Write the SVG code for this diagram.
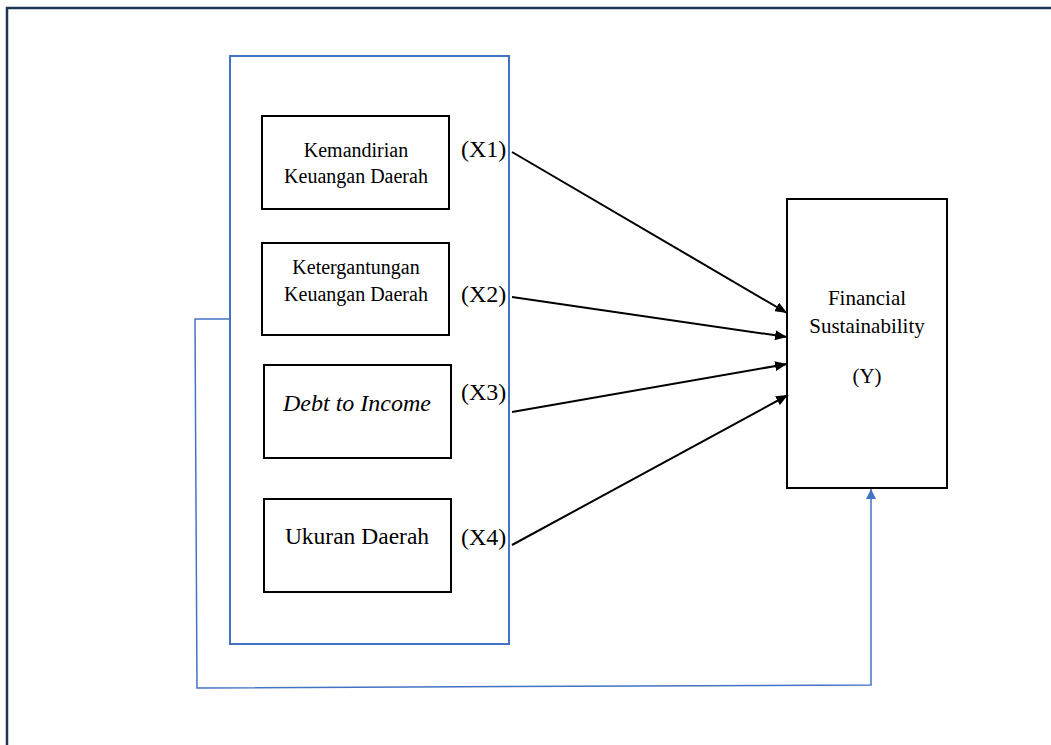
<svg xmlns="http://www.w3.org/2000/svg" width="1051" height="745" viewBox="0 0 1051 745">
<style>
.box{fill:#fff;stroke:#000;stroke-width:2}
.t{font-family:"Liberation Serif","Times New Roman",serif;fill:#000}
.arr{stroke:#000;stroke-width:2;fill:none}
.blue{stroke:#4472c4;fill:none}
</style>
<defs>
<marker id="ah" viewBox="0 0 12 10" refX="12" refY="5" markerWidth="12" markerHeight="10" markerUnits="userSpaceOnUse" orient="auto">
<path d="M0,0 L12,5 L0,10 z" fill="#000"/>
</marker>
<marker id="bh" viewBox="0 0 10 10" refX="10" refY="5" markerWidth="10" markerHeight="11" markerUnits="userSpaceOnUse" orient="auto">
<path d="M0,0 L10,5 L0,10 z" fill="#4472c4"/>
</marker>
</defs>
<rect width="1051" height="745" fill="#fff"/>
<g id="frame">
<path d="M7,745 V8 H1051" fill="none" stroke="#1f3557" stroke-width="2.5"/>
</g>
<g id="group-x">
<rect x="230" y="56" width="279" height="588" class="blue" stroke-width="2"/>
</g>
<g id="x1">
<rect x="262" y="116" width="187" height="93" class="box"/>
<text class="t" font-size="20" text-anchor="middle"><tspan x="356" y="157">Kemandirian</tspan><tspan x="356" y="183">Keuangan Daerah</tspan></text>
<text class="t" font-size="24" x="461" y="157">(X1)</text>
</g>
<g id="x2">
<rect x="262" y="243" width="187" height="92" class="box"/>
<text class="t" font-size="20" text-anchor="middle"><tspan x="356" y="274">Ketergantungan</tspan><tspan x="356" y="301">Keuangan Daerah</tspan></text>
<text class="t" font-size="24" x="461" y="302">(X2)</text>
</g>
<g id="x3">
<rect x="264" y="365" width="187" height="93" class="box"/>
<text class="t" font-size="24" font-style="italic" text-anchor="middle" x="357" y="411">Debt to Income</text>
<text class="t" font-size="24" x="461" y="400">(X3)</text>
</g>
<g id="x4">
<rect x="264" y="499" width="187" height="93" class="box"/>
<text class="t" font-size="23.5" text-anchor="middle" x="357" y="544">Ukuran Daerah</text>
<text class="t" font-size="24" x="461" y="545">(X4)</text>
</g>
<g id="y">
<rect x="787" y="199" width="160" height="289" class="box"/>
<text class="t" font-size="21" text-anchor="middle"><tspan x="867" y="305">Financial</tspan><tspan x="867" y="333">Sustainability</tspan><tspan x="867" y="383">(Y)</tspan></text>
</g>
<g id="connectors">
<line x1="512" y1="152" x2="787" y2="313" class="arr" marker-end="url(#ah)"/>
<line x1="512" y1="297" x2="787" y2="337" class="arr" marker-end="url(#ah)"/>
<line x1="512" y1="412" x2="787" y2="364" class="arr" marker-end="url(#ah)"/>
<line x1="512" y1="545" x2="788" y2="395" class="arr" marker-end="url(#ah)"/>
<path d="M230,319 H195 L197,688 L871,685 V489" class="blue" stroke-width="1.5" marker-end="url(#bh)"/>
</g>
</svg>
